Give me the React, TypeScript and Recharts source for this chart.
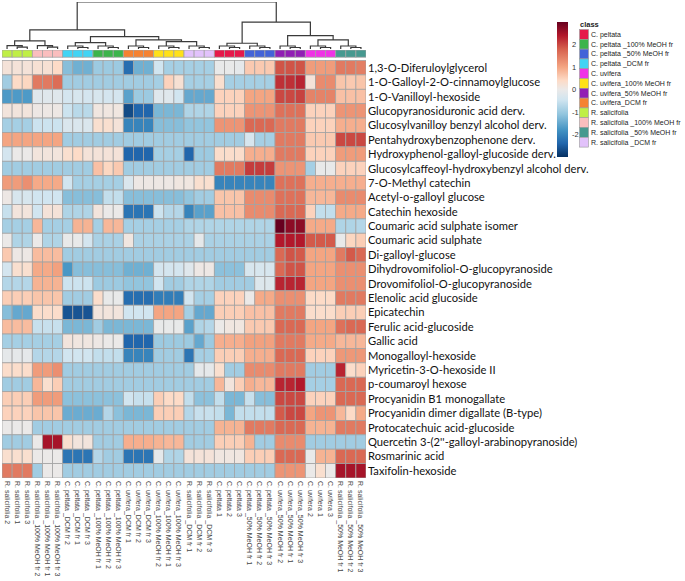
import React from 'react';
import { ScatterChart, Scatter, XAxis, YAxis, LineChart, Line } from 'recharts';

// rows (compounds), top to bottom
const compounds = [
  '1,3-O-Diferuloylglycerol',
  '1-O-Galloyl-2-O-cinnamoylglucose',
  '1-O-Vanilloyl-hexoside',
  'Glucopyranosiduronic acid derv.',
  'Glucosylvanilloy benzyl alcohol derv.',
  'Pentahydroxybenzophenone derv.',
  'Hydroxyphenol-galloyl-glucoside derv.',
  'Glucosylcaffeoyl-hydroxybenzyl alcohol derv.',
  '7-O-Methyl catechin',
  'Acetyl-o-galloyl glucose',
  'Catechin hexoside',
  'Coumaric acid  sulphate isomer',
  'Coumaric acid sulphate',
  'Di-galloyl-glucose',
  'Dihydrovomifoliol-O-glucopyranoside',
  'Drovomifoliol-O-glucopyranoside',
  'Elenolic acid glucoside',
  'Epicatechin',
  'Ferulic acid-glucoside',
  'Gallic acid',
  'Monogalloyl-hexoside',
  'Myricetin-3-O-hexoside II',
  'p-coumaroyl hexose',
  'Procyanidin B1 monogallate',
  'Procyanidin dimer digallate (B-type)',
  'Protocatechuic acid-glucoside',
  "Quercetin 3-(2''-galloyl-arabinopyranoside)",
  'Rosmarinic acid',
  'Taxifolin-hexoside',
];

// columns (samples), left to right in dendrogram order
const samples = [
  'R. salicifolia 2', 'R. salicifolia 1', 'R. salicifolia 3',
  'R. salicifolia _100% MeOH fr 2', 'R. salicifolia _100% MeOH fr 1', 'R. salicifolia _100% MeOH fr 3',
  'C. peltata _DCM fr 2', 'C. peltata _DCM fr 1', 'C. peltata _DCM fr 3',
  'C. peltata _100% MeOH fr 1', 'C. peltata _100% MeOH fr 2', 'C. peltata _100% MeOH fr 3',
  'C. uvifera_DCM fr 1', 'C. uvifera_DCM fr 2', 'C. uvifera_DCM fr 3',
  'C. uvifera_100% MeOH fr 2', 'C. uvifera_100% MeOH fr 1', 'C. uvifera_100% MeOH fr 3',
  'R. salicifolia _DCM fr 1', 'R. salicifolia _DCM fr 2', 'R. salicifolia _DCM fr 3',
  'C. peltata 1', 'C. peltata 2', 'C. peltata 3',
  'C. peltata _50% MeOH fr 1', 'C. peltata _50% MeOH fr 2', 'C. peltata _50% MeOH fr 3',
  'C. uvifera_50% MeOH fr 2', 'C. uvifera_50% MeOH fr 1', 'C. uvifera_50% MeOH fr 3',
  'C. uvifera 2', 'C. uvifera 1', 'C. uvifera 3',
  'R. salicifolia _50% MeOH fr 1', 'R. salicifolia _50% MeOH fr 2', 'R. salicifolia _50% MeOH fr 3',
];

const classNames = [
  'C. peltata', 'C. peltata _100% MeOH fr', 'C. peltata _50% MeOH fr', 'C. peltata _DCM fr',
  'C. uvifera', 'C. uvifera_100% MeOH fr', 'C. uvifera_50% MeOH fr', 'C. uvifera_DCM fr',
  'R. salicifolia', 'R. salicifolia _100% MeOH fr', 'R. salicifolia _50% MeOH fr', 'R. salicifolia _DCM fr',
];
const classColors = [
  '#e6194b', '#3cb44b', '#4363d8', '#42d4f4',
  '#f032e6', '#ffe119', '#911eb4', '#f58231',
  '#bfef45', '#fabebe', '#469990', '#e2c2fb',
];
const sampleClass = [
  8, 8, 8, 9, 9, 9, 3, 3, 3, 1, 1, 1, 7, 7, 7, 5, 5, 5,
  11, 11, 11, 0, 0, 0, 2, 2, 2, 6, 6, 6, 4, 4, 4, 10, 10, 10,
];

// column clustering: [left, right, height]; negative = leaf (column number), positive = earlier merge
const colMerges: [number, number, number][] = [
  [-2, -3, 1.8], [-1, 1, 3.4], [-5, -6, 1.8], [-4, 3, 3.4], [2, 4, 8],
  [-8, -9, 1.5], [-7, 6, 3], [-11, -12, 1.5], [-10, 8, 3], [7, 9, 6.3],
  [-14, -15, 1.5], [-13, 11, 3], [-17, -18, 1.5], [-16, 13, 3], [-20, -21, 1.5], [-19, 15, 3],
  [14, 16, 7.3], [12, 17, 9], [10, 18, 12.3], [5, 19, 19],
  [-23, -24, 1.5], [-22, 21, 3], [-26, -27, 1.5], [-25, 23, 3], [22, 24, 5.7],
  [-29, -30, 1.5], [-28, 26, 3], [-32, -33, 1.5], [-31, 28, 3], [-35, -36, 1.5], [-34, 30, 3],
  [29, 31, 9], [27, 32, 13.3], [25, 33, 26.7], [20, 34, 46.7],
];

// scaled abundance, one row per compound, columns in sample order
const scaled: number[][] = [
  [0.2, 0.2, 0.2, 0.25, 0.25, 0.4, -1.2, -1.4, -1.4, -1.0, -1.0, -1.0, -2.3, -1.4, -1.4, -0.45, -0.9, -0.9, -0.9, -0.9, -0.9, -0.05, -0.05, -0.1, 0.6, 0.6, 0.6, 1.9, 1.9, 1.9, 1.1, 1.1, 1.1, 1.5, 1.5, 1.45],
  [-0.95, 0.4, 0.45, 1.5, 1.5, 1.65, -0.95, -0.95, -0.95, -0.95, -0.95, -0.95, -0.95, -0.95, -0.95, -0.9, 0.5, 0.25, -0.9, -0.9, -0.9, 0.3, -0.9, -0.9, -0.9, -0.9, -0.9, 2.2, 2.2, 2.3, 0.2, 1.3, 1.3, 0.65, 0.6, 0.65],
  [-1.7, -1.7, -1.7, -0.2, -0.2, -0.2, -0.4, -0.35, -0.4, -0.35, -0.4, -0.4, -1.6, -1.0, -1.0, -0.2, -0.2, -0.45, -1.5, -1.5, -1.5, 0.5, 0.5, 0.5, 1.0, 1.0, 1.0, 2.0, 2.0, 2.05, 1.4, 1.4, 1.4, 0.7, 0.7, 0.7],
  [0.15, 0.15, 0.15, 0.05, 0.05, 0.05, -0.5, -0.7, -0.7, 0.1, 0.1, 0.1, -2.7, -2.4, -2.4, -1.3, -1.3, -1.3, -0.8, -0.8, -0.8, 0.5, 0.5, 0.5, 1.2, 1.2, 1.2, 1.6, 1.6, 1.6, 0.5, 0.5, 0.5, 1.2, 1.2, 1.2],
  [-0.9, -0.9, -0.9, -0.5, -0.5, -0.5, -0.3, -0.3, -0.3, 0.3, 0.3, 0.2, -2.0, -2.0, -2.0, -1.2, -1.2, -1.2, -1.1, -1.1, -1.1, 1.2, 1.2, 1.2, 1.7, 1.7, 1.7, 1.5, 1.5, 1.5, 0.5, 0.5, 0.5, 0.9, 0.9, 0.9],
  [1.0, 1.0, 1.0, 1.0, 1.0, 1.0, -0.95, -0.95, -0.95, -0.95, -0.95, -0.95, -0.95, -0.95, -0.95, -0.95, -0.95, -0.95, -0.95, -0.95, -0.95, -0.95, -0.95, -0.95, -0.35, -0.9, -0.9, 1.5, 1.5, 1.5, 0.6, 0.6, 0.6, 2.0, 2.0, 2.0],
  [-0.4, 0.0, 0.0, 0.15, 0.15, 0.15, 0.3, 0.4, 0.2, 0.2, 0.2, 0.2, -2.4, -2.4, -2.4, -0.9, -0.9, -0.9, -2.4, -1.0, -1.0, 0.35, 0.35, 0.35, 0.9, 0.9, 0.9, 1.5, 1.5, 1.5, 0.5, 0.5, 0.5, 1.1, 1.1, 1.1],
  [-0.95, -0.95, -0.95, -0.95, -0.95, -0.95, -0.95, -0.95, -0.95, 0.7, 0.45, 0.6, -0.95, -0.95, -0.95, -0.95, -0.95, -0.95, -0.95, -0.95, -0.95, 1.5, 1.5, 1.5, 2.1, 2.1, 2.1, 1.2, 1.2, 1.2, -0.9, -0.05, -0.05, 0.5, 0.5, 0.5],
  [1.1, 1.1, 1.25, 0.95, 0.95, 0.95, -0.45, -0.9, -0.9, -0.9, -0.9, -0.9, -0.3, 0.05, 0.05, 0.05, 0.05, 0.1, 0.1, 0.3, 0.3, -2.0, -2.0, -2.0, -2.0, -2.0, -2.0, 1.6, 1.6, 1.6, 0.9, 0.9, 0.9, 0.9, 0.9, 0.9],
  [0.05, -0.35, -0.35, -0.45, -0.45, -0.45, -1.2, -1.2, -1.2, -1.2, -0.6, -0.6, -1.2, -1.2, -1.2, -1.2, -1.2, -1.2, -1.1, -0.95, -0.95, 0.65, 0.65, 0.65, 1.3, 1.3, 1.3, 1.6, 1.6, 1.6, 0.8, 0.8, 0.8, 1.3, 1.3, 1.3],
  [-0.55, 0.15, 0.15, -0.45, 0.2, 0.2, -0.8, -0.8, -0.8, 0.15, 0.0, 0.0, -2.2, -2.2, -2.2, -0.5, -0.75, -0.75, -2.0, -1.6, -1.6, 0.7, 0.7, 0.7, 1.3, 1.3, 1.3, 1.7, 1.7, 1.7, 0.5, -0.6, -0.6, 0.95, 0.95, 0.95],
  [-0.9, -0.9, -0.9, 0.8, -0.9, -0.9, -0.9, 0.85, 0.85, -0.9, 0.8, 0.8, -0.9, -0.9, -0.9, -0.9, -0.9, -0.9, -0.8, -0.8, -0.8, -0.8, -0.8, -0.8, -0.8, -0.8, -0.8, 3.0, 2.7, 2.7, 0.95, 0.95, 0.95, -0.8, -0.8, -0.75],
  [0.0, -0.8, -0.8, 0.0, -0.8, -0.8, -0.05, -0.05, -0.4, -0.85, -0.85, -0.85, 0.1, -0.85, -0.85, -0.85, -0.85, -0.85, -0.85, -0.1, -0.85, -0.85, -0.85, -0.85, -0.85, -0.85, -0.85, 2.4, 2.4, 2.4, 1.85, 1.85, 1.85, -0.05, 0.45, 0.55],
  [0.6, 0.05, 0.05, 0.75, 0.75, 0.75, -0.95, -0.95, -0.95, -0.95, -0.95, -0.95, -0.95, -0.95, -0.95, -0.95, -0.95, -0.95, -0.95, -0.95, -0.95, -0.95, -0.95, -0.95, -0.95, -0.95, -0.95, 1.7, 1.9, 1.85, 1.0, 1.0, 1.0, 1.5, 1.85, 1.7],
  [-0.4, 0.3, 0.3, 0.95, 0.95, 1.05, -1.75, -1.2, -1.2, -1.2, -1.2, -1.2, -1.4, -1.4, -1.4, -0.4, -0.4, -0.4, -0.2, 0.05, 0.05, -1.15, -1.15, -1.15, -0.35, -0.35, -0.35, 1.7, 1.9, 1.9, 1.0, 1.0, 1.0, 1.25, 1.25, 1.25],
  [-0.75, -0.75, -0.75, 0.85, 0.85, 0.85, -0.5, -0.5, -0.5, -1.0, -1.0, -1.0, -1.1, -1.1, -1.1, -0.45, -0.95, -0.95, -0.8, -0.8, -0.8, -0.95, -0.95, -0.95, -0.95, -0.25, -0.25, 2.3, 2.3, 2.3, 1.0, 1.0, 1.0, 1.25, 1.25, 1.25],
  [0.55, 0.55, 0.55, 0.65, 0.65, 0.65, -0.95, -0.95, -0.95, 0.35, -0.05, -0.05, -2.3, -2.3, -2.3, -2.1, -2.1, -2.1, -0.45, -0.9, -0.9, 0.5, 0.5, 0.5, 0.0, 0.95, 0.95, 1.25, 1.25, 1.25, 0.4, 0.4, 0.4, 1.5, 1.5, 1.5],
  [-1.2, -1.5, -1.5, 0.35, 0.35, 0.35, -2.6, -2.6, -2.6, 0.15, 0.15, 0.15, -0.45, -0.45, -0.45, 1.0, 1.0, 1.0, -0.9, -1.5, -1.5, 0.55, 0.55, 0.55, 0.7, 0.7, 0.7, 1.5, 1.5, 1.5, 0.35, 0.35, 0.35, 0.55, 0.55, 0.55],
  [0.75, 0.75, 0.75, -0.55, -0.55, -0.55, -1.3, -1.3, -1.3, -0.95, -1.3, -1.3, -1.3, -1.3, -1.3, -0.05, -0.05, -0.05, -1.6, -0.8, -0.75, 0.0, 0.1, 0.1, 0.6, 0.6, 0.6, 1.7, 1.7, 1.7, 1.0, 1.0, 1.0, 1.6, 1.7, 1.7],
  [-0.9, -0.9, -0.9, -0.9, -0.9, -0.9, 0.15, 0.1, 0.1, 0.05, 0.0, 0.0, -2.4, -2.4, -2.4, -1.0, -1.0, -1.0, -1.0, -1.5, -1.0, 0.9, 0.9, 0.9, 1.05, 1.05, 1.05, 1.5, 1.5, 1.5, 0.95, 0.95, 0.95, 0.8, 0.8, 0.8],
  [-0.1, -0.1, -0.1, -0.75, -0.75, -0.75, -0.45, -0.45, -0.45, -0.6, -0.6, -0.6, -2.0, -2.0, -2.0, -0.95, -0.95, -0.95, -2.2, -0.9, -0.9, 0.55, 0.55, 0.55, 0.9, 0.9, 0.9, 1.7, 1.7, 1.7, 0.5, 0.5, 0.5, 1.15, 1.15, 1.15],
  [0.35, 0.35, 0.35, 1.1, 1.1, 1.25, -0.95, -0.95, -0.95, -0.95, -0.95, -0.95, -0.95, -0.95, -0.95, -0.95, -0.95, -0.95, -0.95, -0.1, -0.1, 0.3, -0.95, -0.95, 1.3, 1.3, 1.3, 1.5, 1.5, 1.5, -0.95, -0.95, -0.95, 2.3, 0.35, 0.5],
  [-0.95, -0.95, -0.95, 0.8, 0.3, 0.55, -0.95, -0.95, -0.95, -0.95, -0.95, -0.95, -0.95, -0.95, -0.95, -0.95, -0.95, -0.95, -0.95, -0.95, -0.95, 0.8, 0.15, 0.55, 0.9, 0.8, 0.8, 2.3, 2.3, 2.4, -0.9, -0.9, -0.9, 1.7, 1.7, 1.7],
  [0.55, 0.55, 0.55, 1.1, 1.1, 1.1, -1.15, -1.15, -1.15, -1.15, -1.15, -1.15, -0.45, -0.55, -0.55, 0.55, 0.4, 0.4, -0.6, -1.15, -1.15, -0.6, -1.3, -1.3, -0.55, -1.2, -1.2, 2.0, 2.0, 2.0, 0.5, 0.5, 0.5, 1.7, 1.7, 1.7],
  [0.5, 0.5, 0.5, 0.65, 0.65, 0.65, -1.45, -1.45, -1.45, -1.45, -0.75, -1.15, -1.3, -1.3, -1.3, 0.55, 0.55, 0.55, -0.75, -0.55, -0.55, -0.6, -1.3, -0.6, -0.6, -0.6, -0.6, 1.85, 2.0, 2.0, 1.0, 1.2, 1.2, 0.8, 0.4, 0.95],
  [0.0, 0.0, 0.0, -0.95, -0.95, -0.95, -0.95, -0.95, -0.95, -0.95, -0.95, -0.95, -0.95, -0.95, -0.95, -0.95, -0.95, -0.95, -0.95, -0.95, -0.95, 0.85, 0.85, 0.85, 1.5, 1.5, 1.5, 1.7, 1.7, 1.7, 0.85, 0.85, 0.85, 1.5, 1.5, 1.5],
  [-0.95, -0.95, -0.95, 0.0, 2.5, 2.5, 0.3, 0.15, 0.15, -0.95, -0.95, -0.95, 0.9, 0.9, 0.9, 0.85, 0.8, 0.8, -0.95, -0.95, -0.95, 0.55, 0.55, 0.55, 0.85, -0.95, -0.95, 1.3, 1.3, 1.3, -0.95, -0.95, -0.95, -0.95, -0.95, -0.95],
  [0.3, 0.3, 0.3, 0.0, 0.0, 0.0, -2.2, -2.2, -2.2, -0.75, -0.95, -0.95, -2.2, -2.2, -2.2, -0.1, -0.8, -0.8, 0.2, 0.2, 0.2, 0.1, 0.1, 0.1, 0.55, 0.55, 0.55, 1.7, 1.7, 1.7, -0.05, 0.85, 0.85, 1.7, 1.7, 1.7],
  [1.5, 1.5, 1.5, -0.95, 0.0, 0.0, -0.95, -0.95, -0.95, -0.95, -0.95, -0.95, -0.95, -0.95, -0.95, -0.95, -0.95, -0.95, -0.95, -0.95, -0.95, -0.95, -0.95, -0.95, -0.95, -0.95, -0.95, 1.2, 1.2, 1.2, 0.0, 0.3, 0.0, 2.5, 2.5, 2.5],
];

const legendTicks = [2, 1, 0, -1, -2];

// colour ramp (RdBu)
const ramp: [number, string][] = [
  [-3, '#053061'], [-2.4, '#2166ac'], [-1.8, '#4393c3'], [-1.1, '#92c5de'], [-0.45, '#d1e5f0'],
  [0, '#ebe9e8'], [0.4, '#fddbc7'], [1.0, '#f4a582'], [1.8, '#d6604d'], [2.4, '#b2182b'], [3, '#67001f'],
];

const hex = (c: string) => [1, 3, 5].map((i) => parseInt(c.slice(i, i + 2), 16));
function colorFor(v: number) {
  if (v <= ramp[0][0]) return ramp[0][1];
  for (let i = 1; i < ramp.length; i++) {
    const [v1, c1] = ramp[i];
    if (v <= v1) {
      const [v0, c0] = ramp[i - 1];
      const t = (v - v0) / (v1 - v0);
      const a = hex(c0), b = hex(c1);
      return `rgb(${a.map((x, k) => Math.round(x + (b[k] - x) * t)).join(',')})`;
    }
  }
  return ramp[ramp.length - 1][1];
}

// layout
const PLOT_LEFT = 2;
const PLOT_W = 364;
const PLOT_TOP = 50;
const PLOT_H = 428;
const Y_MIN = -0.729;
const nCols = samples.length;
const nRows = compounds.length;
const CELL_W = PLOT_W / nCols;
const CELL_H = PLOT_H / (nRows - Y_MIN);
const ANNOT_Y = -0.48;
const ANNOT_H = 7.2;
const GRID = '#a3a3a3';

const heatCells = scaled.flatMap((row, r) => row.map((v, c) => ({ x: c + 0.5, y: r + 0.5, v })));
const annotCells = sampleClass.map((k, c) => ({ x: c + 0.5, y: ANNOT_Y, k }));
const colTicks = samples.map((_, i) => i + 0.5);
const rowTicks = compounds.map((_, i) => i + 0.5);

// dendrogram segments
const nodeX: number[] = [];
const nodeH: number[] = [];
const dendroPoints: { x: number; h: number | null }[] = [];
colMerges.forEach(([a, b, h], i) => {
  const pa = a < 0 ? { x: -a - 0.5, h: 0 } : { x: nodeX[a - 1], h: nodeH[a - 1] };
  const pb = b < 0 ? { x: -b - 0.5, h: 0 } : { x: nodeX[b - 1], h: nodeH[b - 1] };
  nodeX[i] = (pa.x + pb.x) / 2;
  nodeH[i] = h;
  dendroPoints.push({ x: pa.x, h: pa.h }, { x: pa.x, h }, { x: pb.x, h }, { x: pb.x, h: pb.h }, { x: pb.x, h: null });
});
const maxHeight = Math.max(...colMerges.map((m) => m[2]));

const HeatShape = (p: any) => (
  <rect
    x={p.cx - CELL_W / 2}
    y={p.cy - CELL_H / 2}
    width={CELL_W}
    height={CELL_H}
    fill={colorFor(p.payload.v)}
    stroke={GRID}
    strokeWidth={0.8}
  />
);

const AnnotShape = (p: any) => (
  <rect
    x={p.cx - CELL_W / 2}
    y={p.cy - ANNOT_H / 2}
    width={CELL_W}
    height={ANNOT_H}
    fill={classColors[p.payload.k]}
    stroke={GRID}
    strokeWidth={0.8}
  />
);

const SampleTick = (p: any) => {
  const idx = Math.floor(p.payload.value);
  return (
    <text
      transform={`translate(${p.x},${p.y}) rotate(90)`}
      dy="0.35em"
      textAnchor="start"
      fontSize={7}
      fontFamily="Liberation Sans, Arial, sans-serif"
      fill="#444"
    >
      {samples[idx]}
    </text>
  );
};

const CompoundTick = (p: any) => {
  const idx = Math.floor(p.payload.value);
  return (
    <text x={p.x} y={p.y} dy="0.36em" textAnchor="start" fontSize={11.2} fontFamily="Lato, sans-serif" fill="#111">
      {compounds[idx]}
    </text>
  );
};

function ScaleLegend() {
  const barTop = 22, barH = 135, barX = 557, barW = 11;
  const mid = barTop + barH / 2;
  const unit = barH / 6;
  return (
    <svg width={685} height={200} style={{ position: 'absolute', left: 0, top: 0 }}>
      <defs>
        <linearGradient id="rdbu" x1="0" y1="0" x2="0" y2="1">
          {ramp.slice().reverse().map(([v, c]) => (
            <stop key={v} offset={(3 - v) / 6} stopColor={c} />
          ))}
        </linearGradient>
      </defs>
      <rect x={barX} y={barTop} width={barW} height={barH} fill="url(#rdbu)" />
      {legendTicks.map((t) => (
        <text key={t} x={572} y={mid - t * unit} dy="0.35em" fontSize={7.5} fontFamily="Liberation Sans, Arial, sans-serif" fill="#333">
          {t}
        </text>
      ))}
      <text x={580} y={27} fontSize={7.5} fontWeight="bold" fontFamily="Liberation Sans, Arial, sans-serif" fill="#222">
        class
      </text>
      {classNames.map((name, i) => (
        <g key={name}>
          <rect x={579.5} y={29.5 + i * 9.8} width={9} height={9.8} fill={classColors[i]} stroke="#9a9a9a" strokeWidth={0.6} />
          <text x={591} y={29.5 + i * 9.8 + 4.9} dy="0.35em" fontSize={7} fontFamily="Liberation Sans, Arial, sans-serif" fill="#222">
            {name}
          </text>
        </g>
      ))}
    </svg>
  );
}

export default function App() {
  return (
    <div style={{ position: 'absolute', left: 0, top: 0, width: 685, height: 581, background: '#fff' }}>
      <div style={{ position: 'absolute', left: 0, top: 0 }}>
        <LineChart width={PLOT_LEFT + PLOT_W} height={49} margin={{ top: 2, right: 0, bottom: 0, left: PLOT_LEFT }}>
          <XAxis hide type="number" dataKey="x" domain={[0, nCols]} allowDataOverflow />
          <YAxis hide type="number" domain={[0, maxHeight]} allowDataOverflow />
          <Line
            data={dendroPoints}
            dataKey="h"
            stroke="#3a3a3a"
            strokeWidth={1.2}
            dot={false}
            activeDot={false}
            connectNulls={false}
            isAnimationActive={false}
          />
        </LineChart>
      </div>
      <div style={{ position: 'absolute', left: 0, top: 0 }}>
        <ScatterChart width={600} height={581} margin={{ top: PLOT_TOP, right: 0, bottom: 0, left: PLOT_LEFT }}>
          <XAxis
            type="number"
            dataKey="x"
            domain={[0, nCols]}
            ticks={colTicks}
            interval={0}
            tick={<SampleTick />}
            tickSize={0}
            tickMargin={3}
            axisLine={false}
            tickLine={false}
            height={581 - PLOT_TOP - PLOT_H}
            allowDataOverflow
          />
          <YAxis
            type="number"
            dataKey="y"
            orientation="right"
            reversed
            domain={[Y_MIN, nRows]}
            ticks={rowTicks}
            interval={0}
            tick={<CompoundTick />}
            tickSize={0}
            tickMargin={2}
            axisLine={false}
            tickLine={false}
            width={600 - PLOT_LEFT - PLOT_W}
            allowDataOverflow
          />
          <Scatter data={annotCells} shape={AnnotShape} isAnimationActive={false} />
          <Scatter data={heatCells} shape={HeatShape} isAnimationActive={false} />
        </ScatterChart>
      </div>
      <ScaleLegend />
    </div>
  );
}
